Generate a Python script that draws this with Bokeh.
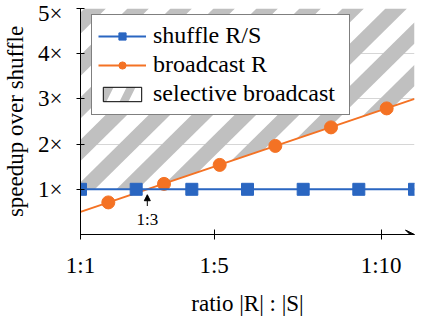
from bokeh.plotting import figure
from bokeh.models import (FixedTicker, Legend, LegendItem, Label,
                          Arrow, NormalHead, VeeHead)
from bokeh.embed import file_html
from bokeh.resources import INLINE

# ---- data ----
x_ticks = [1, 5, 10]
x_tick_labels = ["1:1", "1:5", "1:10"]
y_ticks = [1, 2, 3, 4, 5]
y_tick_labels = ["1×", "2×", "3×", "4×", "5×"]

shuffle_x = [1.0, 2.667, 4.333, 6.0, 7.667, 9.333, 11.0]
shuffle_y = [1.0, 1.0, 1.0, 1.0, 1.0, 1.0, 1.0]

broadcast_line_x = [1.0, 11.0]
broadcast_line_y = [0.5, 3.0]
broadcast_mark_x = [1.833, 3.5, 5.167, 6.833, 8.5, 10.167]
broadcast_mark_y = [0.71, 1.12, 1.54, 1.96, 2.37, 2.79]

selective_x = [1.0, 3.0, 11.0]
selective_lower = [1.0, 1.0, 3.0]
selective_upper = [5.0, 5.0, 5.0]

crossover_x = 3.0
crossover_label = "1:3"

X_MIN, X_MAX = 1, 11
Y_MIN, Y_MAX = 0, 5

BLUE = "#2a66c1"
ORANGE = "#f47224"
HATCH = "#c0c0c0"
FONT = "Liberation Serif"
FS = "23px"

# ---- layout (pixels) ----
W, H = 420, 318
B_LEFT, B_RIGHT, B_TOP, B_BOTTOM = 80, 6, 8, 81
FRAME_W = W - B_LEFT - B_RIGHT
FRAME_H = H - B_TOP - B_BOTTOM

# hatch style (screen pixels): 45 degree stripes
STRIPE_PERIOD = 43.0   # measured along x
STRIPE_WIDTH = 21.5
STRIPE_PHASE = 176.0

p = figure(width=W, height=H, x_range=(X_MIN, X_MAX), y_range=(Y_MIN, Y_MAX),
           output_backend="svg", toolbar_location=None,
           min_border_left=B_LEFT, min_border_right=B_RIGHT,
           min_border_top=B_TOP, min_border_bottom=B_BOTTOM)
p.outline_line_color = None
p.background_fill_color = "white"
p.border_fill_color = "white"

# grid
p.xgrid.visible = False
p.ygrid.ticker = FixedTicker(ticks=y_ticks)
p.ygrid.grid_line_color = "#d6d6d6"
p.ygrid.grid_line_width = 1
p.ygrid.level = "underlay"

# axes
for ax in (p.xaxis[0], p.yaxis[0]):
    ax.axis_line_color = "black"
    ax.axis_line_width = 1
    ax.major_tick_line_color = "black"
    ax.minor_tick_line_color = None
    ax.major_label_text_font = FONT
    ax.major_label_text_font_size = FS
    ax.major_label_text_color = "black"
    ax.axis_label_text_font = FONT
    ax.axis_label_text_font_size = FS
    ax.axis_label_text_font_style = "normal"
    ax.axis_label_text_color = "black"

p.xaxis.ticker = FixedTicker(ticks=x_ticks)
p.xaxis.major_label_overrides = {t: l for t, l in zip(x_ticks, x_tick_labels)}
p.xaxis.major_tick_in = 5
p.xaxis.major_tick_out = 5
p.xaxis.major_label_standoff = 13
p.xaxis.axis_label = "ratio |R| : |S|"
p.xaxis.axis_label_standoff = 10

p.yaxis.ticker = FixedTicker(ticks=y_ticks)
p.yaxis.major_label_overrides = {t: l for t, l in zip(y_ticks, y_tick_labels)}
p.yaxis.major_tick_in = 4
p.yaxis.major_tick_out = 4
p.yaxis.major_label_standoff = 14
p.yaxis.axis_label = "speedup over shuffle"
p.yaxis.axis_label_standoff = 7

# ---- selective broadcast region: 45deg stripes clipped to the region ----
sx = FRAME_W / (X_MAX - X_MIN)
sy = FRAME_H / (Y_MAX - Y_MIN)

def u_of(pt):
    x, y = pt
    return (x - X_MIN) * sx + (Y_MAX - y) * sy

def clip(poly, a, keep_ge):
    out = []
    n = len(poly)
    for i in range(n):
        P, Q = poly[i], poly[(i + 1) % n]
        up, uq = u_of(P) - a, u_of(Q) - a
        inP = up >= 0 if keep_ge else up <= 0
        inQ = uq >= 0 if keep_ge else uq <= 0
        if inP:
            out.append(P)
        if inP != inQ:
            t = up / (up - uq)
            out.append((P[0] + t * (Q[0] - P[0]), P[1] + t * (Q[1] - P[1])))
    return out

region = list(zip(selective_x, selective_lower)) + \
    list(zip(selective_x[::-1], selective_upper[::-1]))
us = [u_of(pt) for pt in region]
umin, umax = min(us), max(us)
k0 = int((umin - STRIPE_PHASE) // STRIPE_PERIOD) - 1
k1 = int((umax - STRIPE_PHASE) // STRIPE_PERIOD) + 1
stripe_xs, stripe_ys = [], []
for k in range(k0, k1 + 1):
    a = STRIPE_PHASE + k * STRIPE_PERIOD
    poly = clip(region, a, True)
    if len(poly) >= 3:
        poly = clip(poly, a + STRIPE_WIDTH, False)
    if len(poly) >= 3:
        stripe_xs.append([q[0] for q in poly])
        stripe_ys.append([q[1] for q in poly])

p.patches(stripe_xs, stripe_ys, fill_color=HATCH, line_color=None)

# legend proxy for the hatched region (zero width, sits on the y axis)
proxy = p.quad(left=[selective_x[0]], right=[selective_x[0]],
               bottom=[selective_lower[0]], top=[selective_upper[0]],
               fill_alpha=0, hatch_pattern="/", hatch_color=HATCH,
               hatch_scale=44, hatch_weight=8, line_color="black", line_width=1)

# broadcast R
bl = p.line(broadcast_line_x, broadcast_line_y, line_color=ORANGE, line_width=2)
bm = p.scatter(broadcast_mark_x, broadcast_mark_y, marker="circle", size=13,
               fill_color=ORANGE, line_color=ORANGE)

# shuffle R/S
sl = p.line(shuffle_x, shuffle_y, line_color=BLUE, line_width=2)
sm = p.scatter(shuffle_x, shuffle_y, marker="square", size=12,
               fill_color=BLUE, line_color=BLUE)

# crossover annotation
p.add_layout(Arrow(x_start=crossover_x, y_start=0.63, x_end=crossover_x, y_end=0.88,
                   line_width=1, line_color="black",
                   end=NormalHead(size=6, fill_color="black", line_color="black")))
p.add_layout(Label(x=crossover_x, y=0.33, text=crossover_label, text_align="center",
                   text_baseline="middle", text_font=FONT, text_font_size="17px",
                   text_color="black"))

# x axis arrow head
p.add_layout(Arrow(x_start=X_MAX - 0.3, y_start=Y_MIN, x_end=X_MAX, y_end=Y_MIN,
                   line_width=1, line_color="black",
                   end=VeeHead(size=9, fill_color="black", line_color="black")))

legend = Legend(items=[
    LegendItem(label="shuffle R/S", renderers=[sl, sm]),
    LegendItem(label="broadcast R", renderers=[bl, bm]),
    LegendItem(label="selective broadcast", renderers=[proxy]),
], location=(11, 119))
legend.label_text_font = FONT
legend.label_text_font_size = "24px"
legend.label_text_color = "black"
legend.label_height = 29
legend.label_width = 190
legend.glyph_height = 18
legend.glyph_width = 48
legend.label_standoff = 7
legend.spacing = 0
legend.padding = 6
legend.margin = 0
legend.border_line_color = "black"
legend.border_line_width = 1
legend.background_fill_color = "white"
legend.background_fill_alpha = 1
p.add_layout(legend, "center")

open("out.html", "w").write(file_html(p, INLINE))
